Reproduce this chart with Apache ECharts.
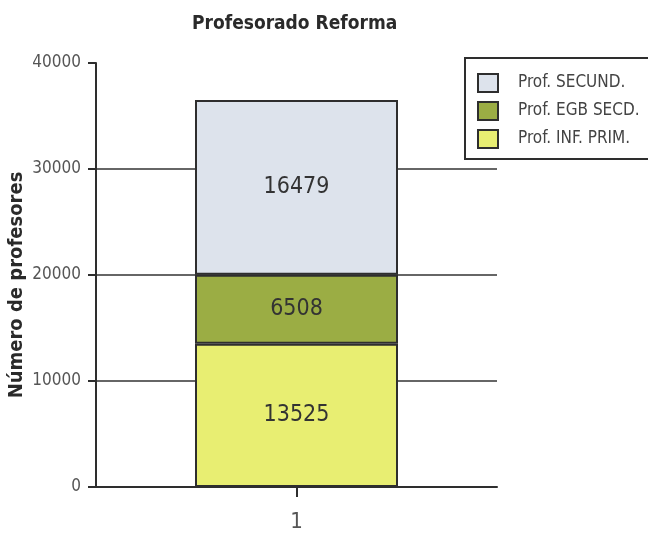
<!DOCTYPE html>
<html>
<head>
<meta charset="utf-8">
<script src="https://cdn.jsdelivr.net/npm/echarts@6/dist/echarts.min.js"></script>
<style>html,body{margin:0;padding:0;background:#fff}#c{width:648px;height:538px}</style>
</head>
<body>
<div id="c"></div>
<script>
var categories = ['1'];
var seriesNames = ['Prof. INF. PRIM.', 'Prof. EGB SECD.', 'Prof. SECUND.'];
var infPrim = [13525];
var egbSecd = [6508];
var secund = [16479];
var yTicks = [0, 10000, 20000, 30000, 40000];

var FONT = "'DejaVu Sans Condensed', 'Liberation Sans Narrow', sans-serif";
var colors = ['#e8ee72', '#9bad44', '#dde3ec'];
var valuesList = [infPrim, egbSecd, secund];

var series = seriesNames.map(function (name, i) {
  return {
    name: name,
    type: 'bar',
    stack: 'total',
    barWidth: 203,
    data: valuesList[i],
    itemStyle: { color: colors[i], borderColor: '#2e2e2e', borderWidth: 2 },
    label: { show: true, position: 'inside', fontFamily: FONT, fontSize: 23, color: '#333' }
  };
});

var chart = echarts.init(document.getElementById('c'), null, { renderer: 'canvas' });
chart.setOption({
  animation: false,
  backgroundColor: '#fff',
  title: {
    text: 'Profesorado Reforma',
    left: 187, top: 10,
    textStyle: { fontFamily: FONT, fontWeight: 'bold', fontSize: 19, color: '#2a2a2a' }
  },
  legend: {
    orient: 'vertical',
    left: 465, top: 58,
    data: seriesNames.slice().reverse(),
    icon: 'rect',
    itemWidth: 20, itemHeight: 18, itemGap: 8,
    padding: [15, 40, 10, 12],
    borderColor: '#2e2e2e', borderWidth: 2,
    textStyle: { fontFamily: FONT, fontSize: 17, color: '#444', padding: [0, 0, 0, 15] }
  },
  grid: { left: 96, right: 151, top: 63, bottom: 51, containLabel: false, outerBoundsMode: 'none' },
  xAxis: {
    type: 'category',
    data: categories,
    axisLine: { lineStyle: { color: '#2e2e2e', width: 2 } },
    axisTick: { show: true, interval: 0, alignWithLabel: true, length: 10, lineStyle: { color: '#2e2e2e', width: 2 } },
    axisLabel: { fontFamily: FONT, fontSize: 22, color: '#555', margin: 24 }
  },
  yAxis: {
    type: 'value',
    min: yTicks[0], max: yTicks[yTicks.length - 1], interval: 10000,
    name: 'Número de profesores',
    nameLocation: 'middle',
    nameGap: 69,
    nameMoveOverlap: false,
    nameTextStyle: { fontFamily: FONT, fontWeight: 'bold', fontSize: 20, color: '#2a2a2a', padding: [0, 20, 0, 0] },
    axisLine: { show: true, lineStyle: { color: '#2e2e2e', width: 2 } },
    axisTick: { show: true, length: 8, lineStyle: { color: '#2e2e2e', width: 2 } },
    axisLabel: { fontFamily: FONT, fontSize: 17, color: '#555', margin: 15, formatter: function (v) { return String(v); } },
    splitLine: { show: true, lineStyle: { color: ['#666', '#666', '#666', '#666', 'rgba(0,0,0,0)'], width: 2 } }
  },
  series: series
});
</script>
</body>
</html>
